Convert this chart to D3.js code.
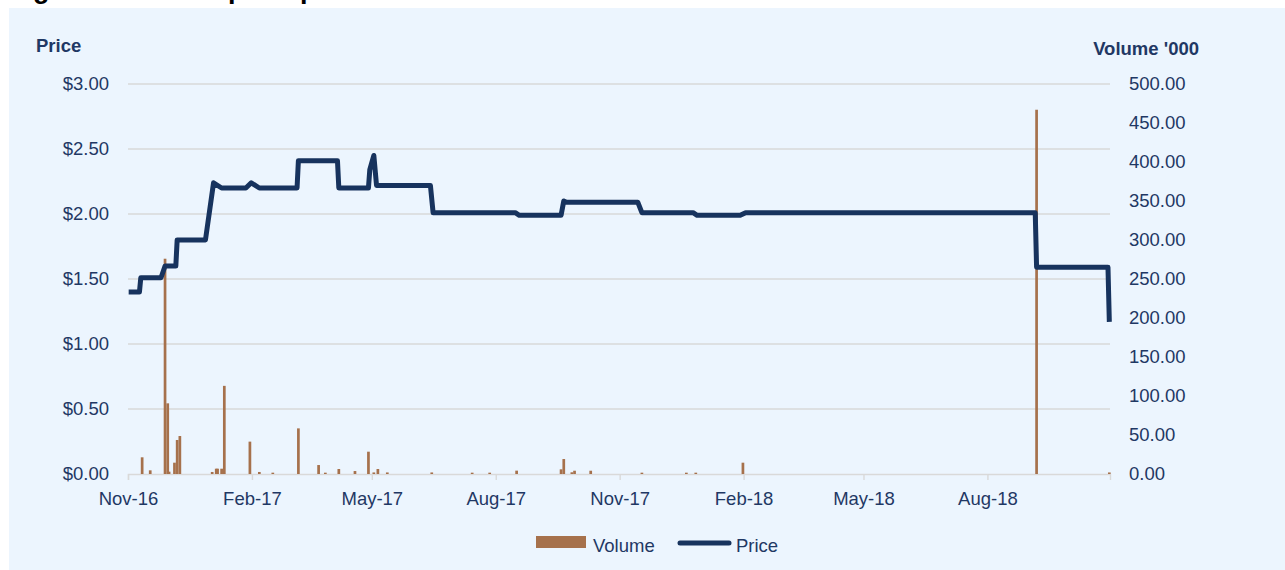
<!DOCTYPE html>
<html>
<head>
<meta charset="utf-8">
<script src="https://cdn.jsdelivr.net/npm/d3@7"></script>
<style>
  body { margin: 0; background: #fff; }
  svg { display: block; font-family: "Liberation Sans", Arial, sans-serif; }
</style>
</head>
<body>
<svg id="chart" width="1285" height="570"></svg>
<script>
// volume traded ('000 shares), one bar per trading day
const volumeDates = [
  "2016-11-11", "2016-11-17", "2016-11-28", "2016-11-30", "2016-12-01",
  "2016-12-05", "2016-12-07", "2016-12-09", "2017-01-02", "2017-01-05",
  "2017-01-06", "2017-01-09", "2017-01-11", "2017-01-30", "2017-02-06",
  "2017-02-16", "2017-03-07", "2017-03-22", "2017-03-27", "2017-04-06",
  "2017-04-18", "2017-04-28", "2017-05-02", "2017-05-05", "2017-05-12",
  "2017-06-14", "2017-07-14", "2017-07-27", "2017-08-16", "2017-09-18",
  "2017-09-20", "2017-09-26", "2017-09-28", "2017-10-10", "2017-11-17",
  "2017-12-20", "2017-12-27", "2018-01-31", "2018-09-06", "2018-10-30",
];
const volumeValues = [
  21.4, 4.7, 276, 90.6, 3,
  14.5, 43.6, 48.7, 2.6, 6.8,
  6.8, 6.8, 113, 41.5, 2.6,
  1.7, 58.5, 11.5, 1.7, 6.4,
  3.8, 28.6, 2, 6.4, 2,
  2, 1.7, 1.7, 4.3, 6,
  19.2, 2.2, 4.2, 4.2, 1.7,
  1.7, 1.7, 14.5, 467, 2,
];

// closing price at each change
const priceDates = [
  "2016-11-01", "2016-11-09", "2016-11-10", "2016-11-25", "2016-11-28",
  "2016-12-06", "2016-12-07", "2016-12-28", "2017-01-03", "2017-01-09",
  "2017-01-27", "2017-01-31", "2017-02-06", "2017-03-06", "2017-03-07",
  "2017-04-05", "2017-04-06", "2017-04-28", "2017-04-29", "2017-05-02",
  "2017-05-04", "2017-06-13", "2017-06-15", "2017-08-15", "2017-08-18",
  "2017-09-18", "2017-09-20", "2017-09-22", "2017-11-14", "2017-11-17",
  "2017-12-25", "2017-12-28", "2018-01-29", "2018-02-02", "2018-09-05",
  "2018-09-06", "2018-10-29", "2018-10-30",
];
const priceValues = [
  1.40, 1.40, 1.51, 1.51, 1.60,
  1.60, 1.80, 1.80, 2.24, 2.20,
  2.20, 2.24, 2.20, 2.20, 2.41,
  2.41, 2.20, 2.20, 2.34, 2.45,
  2.22, 2.22, 2.01, 2.01, 1.99,
  1.99, 2.10, 2.09, 2.09, 2.01,
  2.01, 1.99, 1.99, 2.01, 2.01,
  1.59, 1.59, 1.17,
];

const dateTicks = [
  "2016-11-01", "2017-02-01", "2017-05-01", "2017-08-01",
  "2017-11-01", "2018-02-01", "2018-05-01", "2018-08-01",
];
const priceTicks = [0, 0.5, 1, 1.5, 2, 2.5, 3];
const volumeTicks = [0, 50, 100, 150, 200, 250, 300, 350, 400, 450, 500];
const dateRange = ["2016-11-01", "2018-10-31"];

const NAVY = "#1f3864";
const LINE = "#17335e";
const BAR = "#a6714c";
const GRID = "#d9d9d9";

const plot = { left: 128, right: 1110, top: 84, bottom: 474 };

const parse = d3.utcParse("%Y-%m-%d");
const midday = (s) => d3.utcHour.offset(parse(s), 12);

const svg = d3.select("#chart");

svg.append("rect")
  .attr("x", 9).attr("y", 8)
  .attr("width", 1276).attr("height", 562)
  .attr("fill", "#ecf5fe");

// the figure caption sits mostly above the crop, only descenders show
svg.append("text")
  .attr("x", 9).attr("y", -2.5)
  .attr("font-size", 27).attr("font-weight", "bold")
  .attr("fill", "#000")
  .text("Figure 12: Share price performance");

const x = d3.scaleUtc()
  .domain(dateRange.map(parse))
  .range([plot.left, plot.right]);
const yPrice = d3.scaleLinear().domain([0, 3]).range([plot.bottom, plot.top]);
const yVolume = d3.scaleLinear().domain([0, 500]).range([plot.bottom, plot.top]);

// gridlines follow the price axis
svg.append("g")
  .selectAll("line")
  .data(priceTicks.slice(1))
  .join("line")
  .attr("x1", plot.left).attr("x2", plot.right)
  .attr("y1", (d) => yPrice(d)).attr("y2", (d) => yPrice(d))
  .attr("stroke", GRID).attr("stroke-width", 1.4);

const leftAxis = svg.append("g")
  .attr("transform", `translate(${plot.left},0)`)
  .call(d3.axisLeft(yPrice).tickValues(priceTicks)
    .tickFormat((d) => "$" + d3.format(".2f")(d))
    .tickSize(0).tickPadding(19));

const rightAxis = svg.append("g")
  .attr("transform", `translate(${plot.right},0)`)
  .call(d3.axisRight(yVolume).tickValues(volumeTicks)
    .tickFormat(d3.format(".2f"))
    .tickSize(0).tickPadding(19));

[leftAxis, rightAxis].forEach((g) => {
  g.select(".domain").remove();
  g.selectAll("text")
    .attr("font-family", "Liberation Sans, Arial, sans-serif")
    .attr("font-size", 18.5)
    .attr("fill", NAVY);
});

const bottomAxis = svg.append("g")
  .attr("transform", `translate(0,${plot.bottom})`)
  .call(d3.axisBottom(x).tickValues(dateTicks.map(parse))
    .tickFormat(d3.utcFormat("%b-%y"))
    .tickSize(6).tickSizeOuter(6).tickPadding(12));

bottomAxis.select(".domain").attr("stroke", GRID).attr("stroke-width", 1.4);
bottomAxis.selectAll(".tick line").attr("stroke", GRID).attr("stroke-width", 1.4);
bottomAxis.selectAll("text")
  .attr("font-family", "Liberation Sans, Arial, sans-serif")
  .attr("font-size", 18.5)
  .attr("fill", NAVY);

// volume bars
const barWidth = 2.7;
svg.append("g")
  .selectAll("rect")
  .data(volumeDates.map((d, i) => ({ date: midday(d), value: volumeValues[i] })))
  .join("rect")
  .attr("x", (d) => x(d.date) - barWidth / 2)
  .attr("y", (d) => yVolume(d.value))
  .attr("width", barWidth)
  .attr("height", (d) => yVolume(0) - yVolume(d.value))
  .attr("fill", BAR);

// price line
const priceLine = d3.line()
  .x((d) => x(d.date))
  .y((d) => yPrice(d.value));

svg.append("path")
  .datum(priceDates.map((d, i) => ({ date: midday(d), value: priceValues[i] })))
  .attr("d", priceLine)
  .attr("fill", "none")
  .attr("stroke", LINE)
  .attr("stroke-width", 5)
  .attr("stroke-linejoin", "round");

// axis titles
svg.append("text")
  .attr("x", 36).attr("y", 52)
  .attr("font-size", 18.5).attr("font-weight", "bold")
  .attr("fill", NAVY)
  .text("Price");

svg.append("text")
  .attr("x", 1199).attr("y", 55)
  .attr("text-anchor", "end")
  .attr("font-size", 18.5).attr("font-weight", "bold")
  .attr("fill", NAVY)
  .text("Volume '000");

// legend
const legend = svg.append("g").attr("font-size", 18.5).attr("fill", NAVY);
legend.append("rect")
  .attr("x", 536).attr("y", 536)
  .attr("width", 50).attr("height", 12)
  .attr("fill", BAR);
legend.append("text").attr("x", 593).attr("y", 551.5).text("Volume");
legend.append("line")
  .attr("x1", 680).attr("x2", 729)
  .attr("y1", 543).attr("y2", 543)
  .attr("stroke", LINE).attr("stroke-width", 5)
  .attr("stroke-linecap", "round");
legend.append("text").attr("x", 736).attr("y", 551.5).text("Price");
</script>
</body>
</html>
